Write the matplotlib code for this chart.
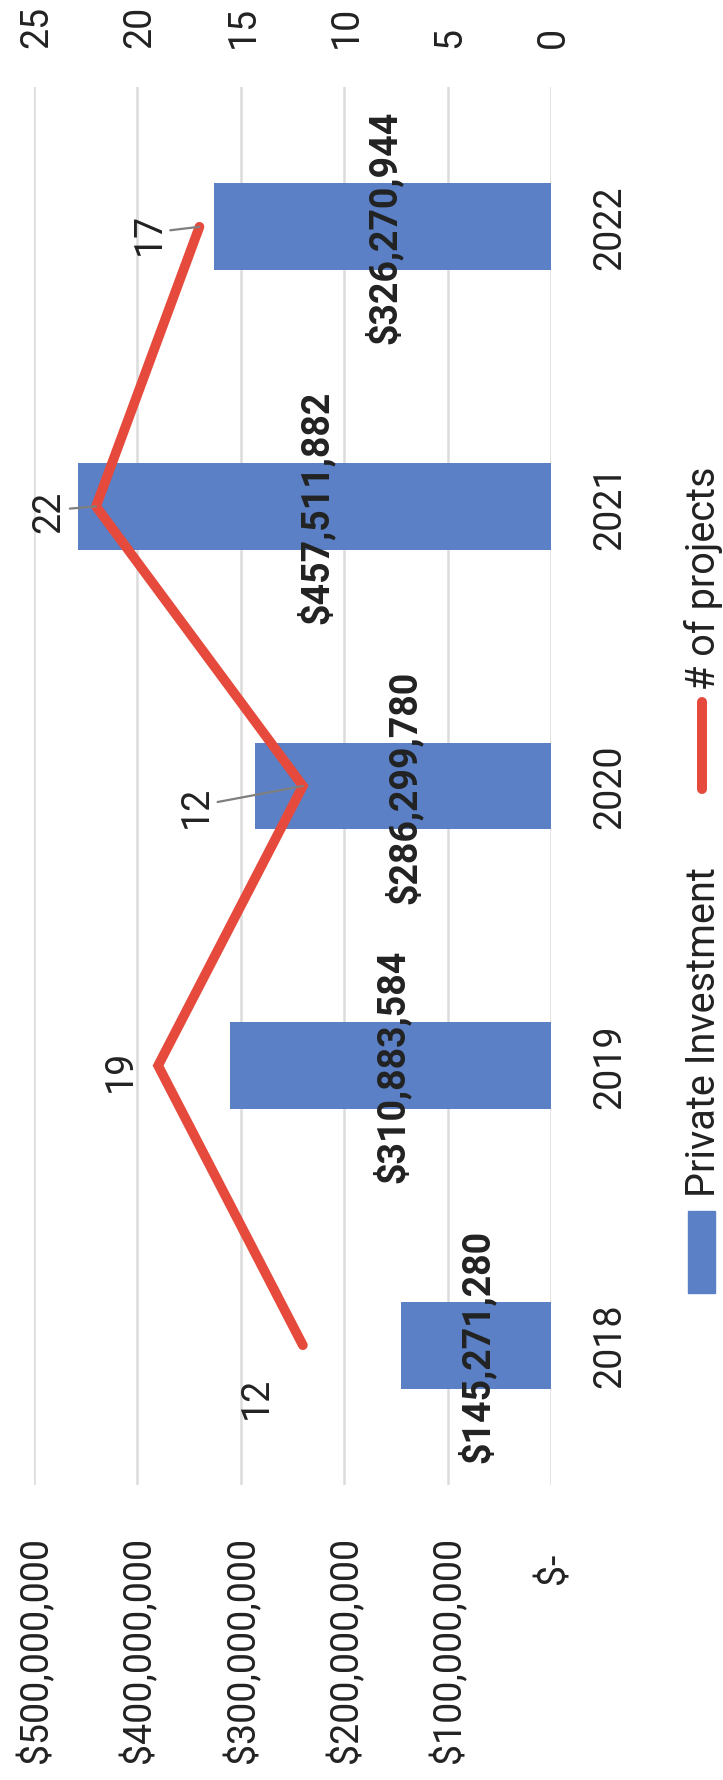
import matplotlib
matplotlib.use("Agg")
import matplotlib.pyplot as plt
from matplotlib.lines import Line2D
from matplotlib.patches import Rectangle

# ---------------- data ----------------
years = ["2018", "2019", "2020", "2021", "2022"]
investment = [145271280, 310883584, 286299780, 457511882, 326270944]
investment_labels = ["$145,271,280", "$310,883,584", "$286,299,780", "$457,511,882", "$326,270,944"]
projects = [12, 19, 12, 22, 17]
inv_ticks = [0, 100e6, 200e6, 300e6, 400e6, 500e6]
inv_tick_labels = ["$-", "$100,000,000", "$200,000,000", "$300,000,000", "$400,000,000", "$500,000,000"]
proj_ticks = [0, 5, 10, 15, 20, 25]
proj_tick_labels = ["0", "5", "10", "15", "20", "25"]
legend_labels = ["Private Investment", "# of projects"]

# ---------------- style ----------------
W, H = 723, 1781
PT = 0.72                      # pixels -> points at dpi 100
FONT = "Roboto"
FS = 27
FS_LEG = 28.5
TXT = "#222222"
BLUE = "#5b80c6"
RED = "#e64a3c"
GRID = "#dcdcdc"
HALF_CAP = 13                  # half cap height in px (baseline offset)

# label offsets (px, right / down) of the line labels relative to their points
line_label_off = [(-49, 52), (-40, 4), (-109, 20), (-50, 4), (-53, 6)]
line_label_leader = [False, False, True, True, True]

plt.rcParams["font.family"] = [FONT, "DejaVu Sans"]

fig = plt.figure(figsize=(W / 100, H / 100), dpi=100)
left, right, top, bottom = 34, 551, 88, 1486
ax = fig.add_axes([left / W, (H - bottom) / H, (right - left) / W, (bottom - top) / H])

pos = list(range(len(years)))
ax.barh(pos, investment, height=0.31, color=BLUE, zorder=2)
ax.set_ylim(-0.5, len(years) - 0.5)
ax.set_xlim(500e6, 0)
ax.set_xticks(inv_ticks)
ax.set_yticks([])
ax.grid(axis="x", color=GRID, lw=1.8, zorder=0)
ax.set_axisbelow(True)
ax.tick_params(length=0, labelbottom=False, labelleft=False)
for s in ax.spines.values():
    s.set_visible(False)

# primary value tick labels (below plot, reading bottom-to-top)
for v, lab in zip(inv_ticks, inv_tick_labels):
    gap = 67 if lab == "$-" else 51
    ax.annotate(lab, xy=(v, 0), xycoords=ax.get_xaxis_transform(),
                xytext=(HALF_CAP * PT, -gap * PT), textcoords="offset points",
                rotation=90, rotation_mode="anchor", ha="right", va="baseline",
                fontsize=FS, color=TXT, annotation_clip=False)

# category labels
for p, yr in zip(pos, years):
    ax.annotate(yr, xy=(1, p), xycoords=ax.get_yaxis_transform(),
                xytext=((620 - right) * PT, 0), textcoords="offset points",
                rotation=90, rotation_mode="anchor", ha="center", va="baseline",
                fontsize=FS, color=TXT, annotation_clip=False)

# bar data labels
for p, v, lab in zip(pos, investment, investment_labels):
    ax.annotate(lab, xy=(v / 2, p), xytext=(HALF_CAP * PT, 0), textcoords="offset points",
                rotation=90, rotation_mode="anchor", ha="center", va="baseline",
                fontsize=FS, fontweight="bold", color=TXT, zorder=5)

# secondary axis: number of projects
ax2 = ax.twiny()
ax2.set_xlim(25, 0)
ax2.set_xticks(proj_ticks)
ax2.tick_params(length=0, labeltop=False, labelbottom=False)
for s in ax2.spines.values():
    s.set_visible(False)
ax2.plot(projects, pos, color=RED, lw=7.0, solid_capstyle="round",
         solid_joinstyle="miter", zorder=3)

for v, lab in zip(proj_ticks, proj_tick_labels):
    ax2.annotate(lab, xy=(v, 1), xycoords=ax2.get_xaxis_transform(),
                 xytext=(HALF_CAP * PT, (top - 48) * PT), textcoords="offset points",
                 rotation=90, rotation_mode="anchor", ha="left", va="baseline",
                 fontsize=FS, color=TXT, annotation_clip=False)

for p, n, (dx, dy), lead in zip(pos, projects, line_label_off, line_label_leader):
    kw = {}
    if lead:
        kw["arrowprops"] = dict(arrowstyle="-", color="#7f7f7f", lw=1.6,
                                shrinkA=0, shrinkB=0)
    ax2.annotate(str(n), xy=(n, p), xytext=((dx + HALF_CAP) * PT, -dy * PT),
                 textcoords="offset points", rotation=90, rotation_mode="anchor",
                 ha="center", va="baseline", fontsize=FS, color=TXT, **kw)

# legend (drawn manually, rotated)
fig.add_artist(Rectangle((688 / W, 1 - 1294 / H), 27 / W, 82 / H,
                         transform=fig.transFigure, color=BLUE))
fig.text(715 / W, 1 - 1197 / H, legend_labels[0], rotation=90, rotation_mode="anchor",
         ha="left", va="baseline", fontsize=FS_LEG, color=TXT)
fig.add_artist(Line2D([702 / W, 702 / W], [1 - 790 / H, 1 - 703 / H],
                      transform=fig.transFigure, color=RED, lw=7.2,
                      solid_capstyle="round"))
fig.text(715 / W, 1 - 690 / H, legend_labels[1], rotation=90, rotation_mode="anchor",
         ha="left", va="baseline", fontsize=FS_LEG, color=TXT)

fig.savefig("out.png", dpi=100, facecolor="white")
